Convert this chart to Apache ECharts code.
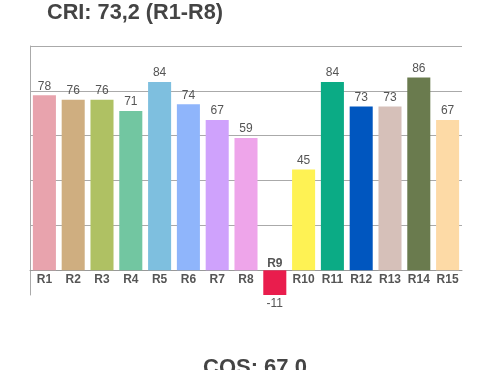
<!DOCTYPE html>
<html>
<head>
<meta charset="utf-8">
<script src="https://cdn.jsdelivr.net/npm/echarts@6/dist/echarts.min.js"></script>
<style>
html,body{margin:0;padding:0;background:#fff;}
#chart{width:500px;height:370px;}
</style>
</head>
<body>
<div id="chart"></div>
<script>
var categories = ['R1','R2','R3','R4','R5','R6','R7','R8','R9','R10','R11','R12','R13','R14','R15'];
var values = [78,76,76,71,84,74,67,59,-11,45,84,73,73,86,67];
var barColors = ['#e8a3ad','#cfae80','#afc163','#72c6a1','#7ebfdf','#8fb5fb','#cfa2fc','#eea5ea','#e91d4d','#fef254','#0bab85','#0056bf','#d6c0b9','#6a7b4e','#fddaa6'];
var gridValues = [20,40,60,80,100];
var yMin = -11, yMax = 100;
var titleTop = 'CRI: 73,2 (R1-R8)';
var titleBottom = 'CQS: 67,0';

var chart = echarts.init(document.getElementById('chart'), null, {renderer:'canvas'});

var seriesData = values.map(function(v, i){
  var item = {value: v, itemStyle: {color: barColors[i]}};
  if (v < 0) item.label = {position: 'bottom'};
  return item;
});

var axisData = categories.map(function(c, i){
  if (values[i] < 0) {
    return {value: c, textStyle: {verticalAlign: 'bottom', padding: [0,0,4,0]}};
  }
  return c;
});

chart.setOption({
  animation: false,
  backgroundColor: '#fff',
  title: [
    {text: titleTop, left: 47, top: 2, padding: 0,
     textStyle: {fontFamily: 'Liberation Sans', fontWeight: 'bold', fontSize: 21.7, color: '#444'}},
    {text: titleBottom, left: 203, top: 357, padding: 0,
     textStyle: {fontFamily: 'Liberation Sans', fontWeight: 'bold', fontSize: 22, color: '#444'}}
  ],
  grid: {left: 30, right: 38, top: 46, bottom: 75, containLabel: false, outerBoundsMode: 'none'},
  xAxis: {
    type: 'category',
    data: axisData,
    axisLine: {show: true, onZero: false, lineStyle: {color: '#999', width: 1}},
    axisTick: {show: false},
    axisLabel: {margin: 3, interval: 0, hideOverlap: false, fontFamily: 'Liberation Sans', fontWeight: 'bold', fontSize: 12, color: '#555'},
    splitLine: {show: false}
  },
  yAxis: {
    type: 'value',
    min: yMin,
    max: yMax,
    axisLine: {show: true, lineStyle: {color: '#aaa', width: 1}},
    axisTick: {show: false},
    axisLabel: {show: false},
    splitLine: {show: false}
  },
  series: [{
    type: 'bar',
    z: 2,
    barCategoryGap: '20%',
    data: seriesData,
    label: {show: true, position: 'top', distance: 3, fontFamily: 'Liberation Sans', fontSize: 12, color: '#555'},
    markLine: {
      z: 1,
      silent: true,
      symbol: 'none',
      label: {show: false},
      lineStyle: {color: '#aaa', type: 'solid', width: 1},
      data: gridValues.map(function(g){ return {yAxis: g}; })
    }
  }]
});

// Place the category axis on the zero line, computed through the value scale
var pZero = chart.convertToPixel({yAxisIndex: 0}, 0);
var pMin = chart.convertToPixel({yAxisIndex: 0}, yMin);
chart.setOption({xAxis: {offset: pZero - pMin}});
</script>
</body>
</html>
